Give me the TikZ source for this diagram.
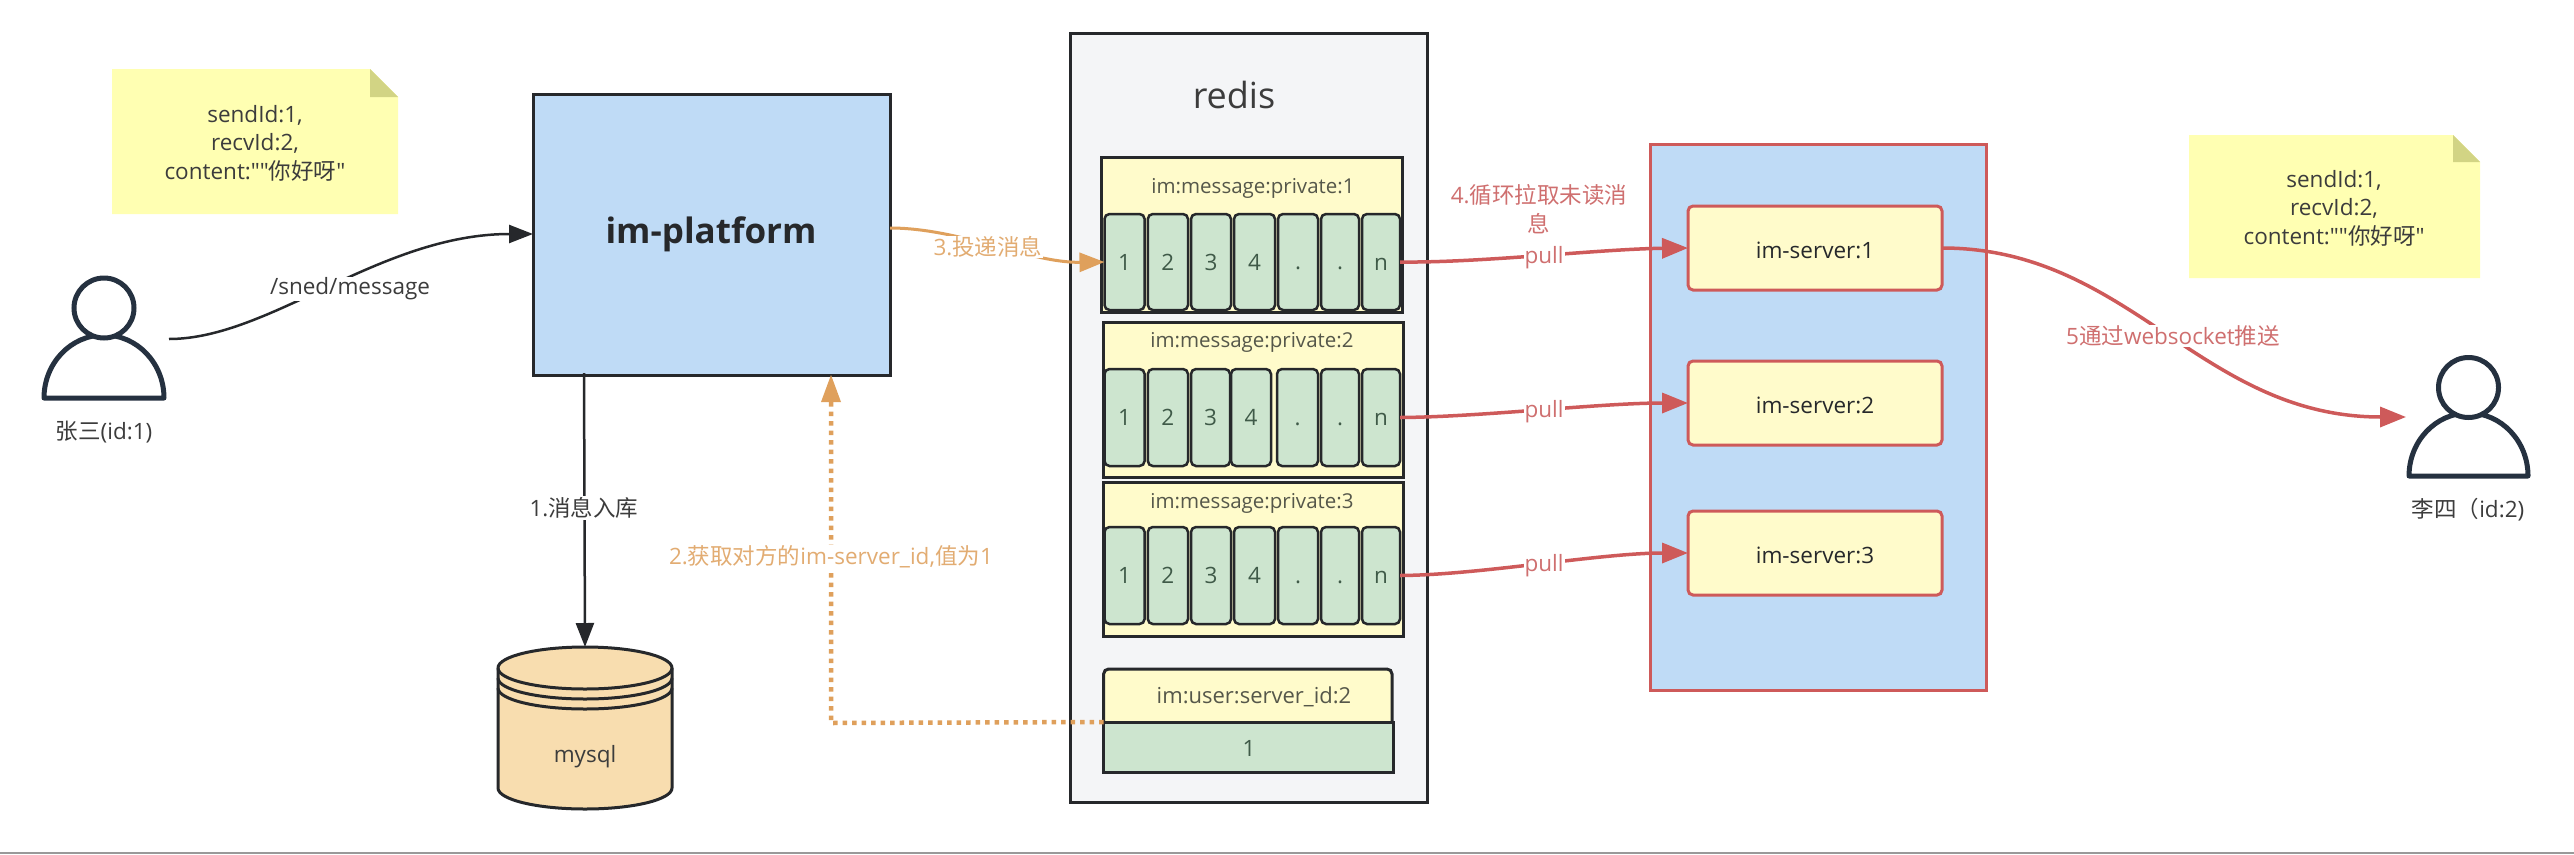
\documentclass[tikz,border=0pt]{standalone}
\usepackage{fontspec}
\setmainfont{Open Sans}
\newfontfamily\opf{Open Sans}
\newfontfamily\cjk{Noto Sans CJK SC}
\usetikzlibrary{arrows.meta}
\definecolor{inkd}{HTML}{26282B}
\definecolor{blueb}{HTML}{BFDBF6}
\definecolor{yel}{HTML}{FFFBCB}
\definecolor{grn}{HTML}{CDE5CF}
\definecolor{notey}{HTML}{FFFFB2}
\definecolor{fold}{HTML}{D2D484}
\definecolor{redl}{HTML}{CE5A5A}
\definecolor{redt}{HTML}{CF6F6F}
\definecolor{org}{HTML}{DFA05C}
\definecolor{orgt}{HTML}{E2AC72}
\definecolor{txt}{HTML}{3C3C3C}
\definecolor{grp}{HTML}{55574A}
\definecolor{celltxt}{HTML}{3F5A48}
\definecolor{pers}{HTML}{253140}
\definecolor{mysqlf}{HTML}{F8DDAF}
\definecolor{redisf}{HTML}{F4F5F7}
\tikzset{
  x=1pt,y=-1pt,
  base/.style={inner sep=0pt,outer sep=0pt,font=\fontsize{22.5}{28.5}\selectfont,text=txt},
  grplab/.style={base,font=\fontsize{20.5}{25}\selectfont,text=grp},
  lab/.style={base,align=center},
  grouprect/.style={draw=inkd,line width=3pt,fill=yel,inner sep=0pt,outer sep=0pt,anchor=north west},
  cell/.style={base,text=celltxt,draw=inkd,line width=2.5pt,fill=grn,rounded corners=5pt,anchor=north west},
  server/.style={base,draw=redl,line width=3pt,fill=yel,rounded corners=5pt,anchor=north west,minimum width=254pt,minimum height=84pt},
  arrowk/.style={draw=inkd,line width=2.5pt,-{Triangle[length=24pt,width=18pt]}},
  arrowr/.style={draw=redl,line width=3.5pt,-{Triangle[length=26pt,width=20pt]}},
  redlab/.style={base,text=redt,fill=white,inner sep=1pt},
}
\newcommand{\person}[6]{% cx, head cy, head r, body halfwidth, body top, body bottom
  \draw[pers,line width=5pt,line join=round,fill=white]
    (#1+#4,#6) arc[start angle=0,end angle=-180,x radius=#4,y radius=#6-#5] -- cycle;
  \draw[pers,line width=5pt,fill=white] (#1,#2) ellipse[x radius=#3,y radius=#3];
}
\newcommand{\stickynote}[6]{% x0,y0,x1,y1,foldx,foldy
  \fill[notey] (#1,#2) -- (#5,#2) -- (#3,#6) -- (#3,#4) -- (#1,#4) -- cycle;
  \fill[fold] (#5,#2) -- (#3,#6) -- (#5,#6) -- cycle;
}
\newcommand{\cells}[3]{% ytop, ybottom, name prefix
  \foreach \a/\b/\t/\k in {1104.5/1144.6/1/a,1147.8/1188/2/b,1191/1231/3/c,1234/1275/4/d,1278/1318/./e,1321/1359/./f,1362/1400/n/g}{
    \node[cell,minimum width=\b pt-\a pt,minimum height=#2 pt-#1 pt] (#3\k) at (\a,#1) {\vphantom{1}\t};
  }
}
\begin{document}
\begin{tikzpicture}
\useasboundingbox (0,0) rectangle (2574,854);
\fill[white] (0,0) rectangle (2574,854);
\fill[black!40] (0,852) rectangle (2574,854);

% notes
\stickynote{112}{69}{398}{214}{370}{97}
\node[lab] (note1) at (255,143) {sendId:1,\\recvId:2,\\content:{\opf""}{\cjk 你好呀}{\opf"}};
\stickynote{2189}{135}{2480}{278}{2453}{162}
\node[lab] (note2) at (2334,208) {sendId:1,\\recvId:2,\\content:{\opf""}{\cjk 你好呀}{\opf"}};

% persons
\person{104}{308}{30}{60}{335}{398}
\node[base] (p1lab) at (104,432) {{\cjk 张三}(id:1)};
\coordinate (p1out) at (169,339);
\person{2468.5}{387.5}{30}{59.5}{413}{476}
\node[base] (p2lab) at (2468,510) {{\cjk 李四（}id:2)};
\coordinate (p2in) at (2406,417);

% platform
\node[draw=inkd,line width=3pt,fill=blueb,anchor=north west,minimum width=357pt,minimum height=281pt,inner sep=0pt,outer sep=0pt] (platform) at (533,94) {};
\node[base,font=\fontsize{35}{42}\selectfont\bfseries,text=inkd] (platformlab) at (711,234) {im-platform};

% mysql
\path[fill=mysqlf,draw=inkd,line width=3pt]
  (498,668) arc[start angle=180,end angle=360,x radius=87,y radius=21]
  -- (672,788) arc[start angle=0,end angle=180,x radius=87,y radius=21] -- cycle;
\draw[inkd,line width=3pt] (498,668) arc[start angle=180,end angle=0,x radius=87,y radius=21];
\draw[inkd,line width=3pt] (498,678) arc[start angle=180,end angle=0,x radius=87,y radius=21];
\draw[inkd,line width=3pt] (498,688) arc[start angle=180,end angle=0,x radius=87,y radius=21];
\coordinate (mysqltop) at (585,647);
\coordinate (platbot) at (584,373);
\node[base] (mysqllab) at (585,757) {mysql};

% redis
\node[draw=inkd,line width=3pt,fill=redisf,anchor=north west,minimum width=357pt,minimum height=769pt,inner sep=0pt,outer sep=0pt] (redis) at (1070,33) {};
\node[base,font=\fontsize{36}{42}\selectfont] (redislab) at (1234,95) {redis};

\node[grouprect,minimum width=301pt,minimum height=155pt] (g1) at (1101,157) {};
\node[grplab] (g1lab) at (1253,188) {im:message:private:1};
\cells{214}{310}{r1}
\node[grouprect,minimum width=300pt,minimum height=155pt] (g2) at (1103.6,322) {};
\node[grplab] (g2lab) at (1252,342) {im:message:private:2};
\foreach \a/\b/\t/\k in {1104.5/1144.6/1/a,1147.8/1188/2/b,1191/1230/3/c,1231/1271/4/d,1277/1318/./e,1321/1359/./f,1362/1400/n/g}{
  \node[cell,minimum width=\b pt-\a pt,minimum height=97pt] (r2\k) at (\a,369) {\vphantom{1}\t};
}
\node[grouprect,minimum width=300pt,minimum height=154pt] (g3) at (1103.6,482) {};
\node[grplab] (g3lab) at (1252,503) {im:message:private:3};
\cells{527}{624}{r3}

\path[draw=inkd,line width=3pt,fill=yel,rounded corners=5pt] (1103.6,723) -- (1103.6,669) -- (1392,669) -- (1392,723);
\node[grplab,font=\fontsize{22}{26}\selectfont] (ulab) at (1254,697) {im:user:server\_id:2};
\node[draw=inkd,line width=3pt,fill=grn,anchor=north west,minimum width=290pt,minimum height=50pt,inner sep=0pt,outer sep=0pt] (uval) at (1103.6,722) {};
\node[base,text=celltxt] (uvallab) at (1249,748) {1};

% servers
\node[draw=redl,line width=3pt,fill=blueb,anchor=north west,minimum width=336pt,minimum height=546pt,inner sep=0pt,outer sep=0pt] (servers) at (1650,144) {};
\foreach \n/\y in {1/206,2/361,3/511}{
  \node[server] (s\n) at (1688,\y) {};
  \node[base,text=inkd] (s\n lab) at (1815,\y+44) {im-server:\n};
}

% connectors
\draw[arrowk] (p1out) .. controls (270,339) and (380,234) .. (platform.west |- 0,234);
\node[lab,fill=white,inner sep=1pt] (l0) at (350,289) {/sned/message};
\draw[arrowk] (platbot) -- (mysqltop);
\node[lab,fill=white,inner sep=1pt] (l1) at (584,508) {1.{\cjk 消息入库}};

\coordinate (uc) at (831,723);
\draw[org,line width=4.5pt,dash pattern=on 4.5pt off 5pt] (uval.north west) -- (uc) -- (831,400);
\fill[org] (831,375) -- (821,402) -- (841,402) -- cycle;
\node[base,text=orgt,fill=white,inner sep=1pt] (l2) at (831,557) {2.{\cjk 获取对方的}im-server\_id,{\cjk 值为}1};

\coordinate (p3s) at (890,228);
\draw[org,line width=3pt,-{Triangle[length=25pt,width=19pt]}] (p3s) .. controls (960,228) and (1030,263) .. (r1a.west);
\node[base,text=orgt,fill=white,inner sep=1pt] (l3) at (988,247) {3.{\cjk 投递消息}};

\node[base,text=redt,align=center] (l4) at (1539,209) {4.{\cjk 循环拉取未读消}\\{\cjk 息}};
\draw[arrowr] (r1g.east) .. controls (1480,263) and (1600,249) .. (s1.west);
\node[redlab] (pl1) at (1544,258) {pull};
\draw[arrowr] (r2g.east) .. controls (1480,417) and (1600,403) .. (s2.west);
\node[redlab] (pl2) at (1544,412) {pull};
\draw[arrowr] (r3g.east) .. controls (1480,575) and (1600,553) .. (s3.west);
\node[redlab] (pl3) at (1544,566) {pull};

\draw[arrowr] (s1.east) .. controls (2130,248) and (2200,417) .. (p2in);
\node[redlab] (l5) at (2173,336) {5{\cjk 通过}websocket{\cjk 推送}};
\end{tikzpicture}
\end{document}
